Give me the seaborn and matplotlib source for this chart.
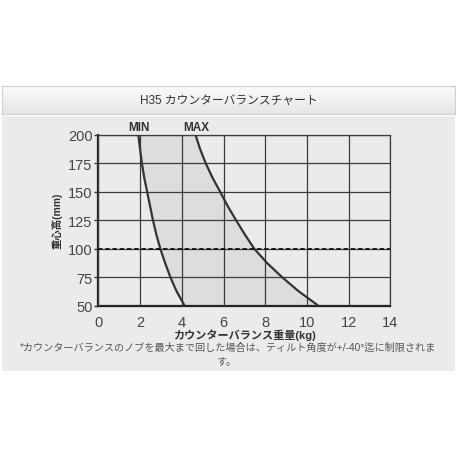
import numpy as np
import pandas as pd
import matplotlib
matplotlib.use("Agg")
import matplotlib.pyplot as plt
from matplotlib.patches import Rectangle
import seaborn as sns

# data (every 12.5 mm)
height_mm = [200, 187.5, 175, 162.5, 150, 137.5, 125, 112.5, 100, 87.5, 75, 62.5, 50]
min_kg = [1.92, 2.0, 2.09, 2.2, 2.34, 2.48, 2.62, 2.78, 2.97, 3.2, 3.45, 3.75, 4.13]
max_kg = [4.66, 4.88, 5.15, 5.47, 5.84, 6.2, 6.6, 7.02, 7.47, 8.08, 8.8, 9.6, 10.53]
x_ticks = [0, 2, 4, 6, 8, 10, 12, 14]
y_ticks = [50, 75, 100, 125, 150, 175, 200]
ref_height = 100

title = "H35 カウンターバランスチャート"
x_label = "カウンターバランス重量(kg)"
y_label = "重心高(mm)"
note_1 = "*カウンターバランスのノブを最大まで回した場合は、ティルト角度が+/-40°迄に制限されま"
note_2 = "す。"

sns.set_theme(style="white")
plt.rcParams['font.family'] = ['Liberation Sans', 'Noto Sans CJK JP', 'DejaVu Sans']

df = pd.DataFrame({"height": height_mm, "min": min_kg, "max": max_kg})
long_df = df.melt(id_vars="height", var_name="limit", value_name="kg")

fig = plt.figure(figsize=(4.6, 4.6), dpi=100)
fig.patch.set_facecolor("white")

W, H = 460.0, 460.0
def fx(px):
    return px / W
def fy(py):
    return 1 - py / H

# panel background
fig.patches.append(Rectangle((fx(2), fy(372)), fx(453), 255 / H, transform=fig.transFigure,
                             facecolor="#ebebeb", edgecolor="none", zorder=-10))
# header bar with gradient
hax = fig.add_axes([fx(2), fy(115), fx(453), 28 / H])
grad = np.linspace(0, 1, 50).reshape(-1, 1)
hax.imshow(grad, aspect="auto", cmap=matplotlib.colors.LinearSegmentedColormap.from_list(
    "hdr", ["#fbfbfb", "#e6e6e6"]), extent=[0, 1, 0, 1], origin="upper")
hax.set_xticks([])
hax.set_yticks([])
for s in hax.spines.values():
    s.set_color("#d0d0d0")
    s.set_linewidth(0.8)
hax.text(0.5, 0.5, title, ha="center", va="center", fontsize=8.5, color="#333333",
         transform=hax.transAxes)

ax = fig.add_axes([fx(98.3), fy(306.5), (390.5 - 98.3) / W, (306.5 - 136) / H])
ax.set_facecolor("#ebebeb")

ax.fill_betweenx(df["height"], df["min"], df["max"], color="#dcdddd", zorder=1, linewidth=0)
sns.lineplot(data=long_df, x="kg", y="height", hue="limit", palette=["#333333", "#333333"],
             sort=False, estimator=None, linewidth=1.6, legend=False, ax=ax, zorder=3)

ax.axhline(ref_height, color="#111111", linewidth=1.3, linestyle=(0, (2.5, 1.5)), zorder=4)

ax.set_xlim(x_ticks[0], x_ticks[-1])
ax.set_ylim(y_ticks[0], y_ticks[-1])
ax.set_xticks(x_ticks)
ax.set_yticks(y_ticks)
ax.grid(True, color="#3c3c3c", linewidth=0.9, zorder=2)
ax.set_axisbelow(False)
for line in ax.get_xgridlines() + ax.get_ygridlines():
    line.set_zorder(2)

for side in ["top", "right"]:
    ax.spines[side].set_visible(True)
    ax.spines[side].set_color("#3c3c3c")
    ax.spines[side].set_linewidth(0.9)
for side in ["left", "bottom"]:
    ax.spines[side].set_color("#222222")
    ax.spines[side].set_linewidth(1.6)

ax.tick_params(axis="y", which="major", left=True, length=3, width=1, color="#333333",
               pad=1, labelsize=10.5, labelcolor="#444444")
ax.tick_params(axis="x", which="major", bottom=False, pad=0.5, labelsize=10.5, labelcolor="#444444")

ax.set_xlabel(x_label, fontsize=8, fontweight="bold", color="#333333", labelpad=0)
ax.set_ylabel(y_label, fontsize=7.5, fontweight="bold", color="#333333", labelpad=4)

ax.text(min_kg[0] + 0.03, 1.01, "MIN", transform=ax.get_xaxis_transform(), ha="center",
        va="bottom", fontsize=8.5, fontweight="bold", color="#333333")
ax.text(max_kg[0] + 0.05, 1.01, "MAX", transform=ax.get_xaxis_transform(), ha="center",
        va="bottom", fontsize=8.5, fontweight="bold", color="#333333")

fig.text(fx(228), fy(348), note_1, ha="center", va="center", fontsize=7.3, color="#555555")
fig.text(fx(227), fy(362), note_2, ha="center", va="center", fontsize=7.3, color="#555555")

fig.savefig("out.png", dpi=100, facecolor="white")
